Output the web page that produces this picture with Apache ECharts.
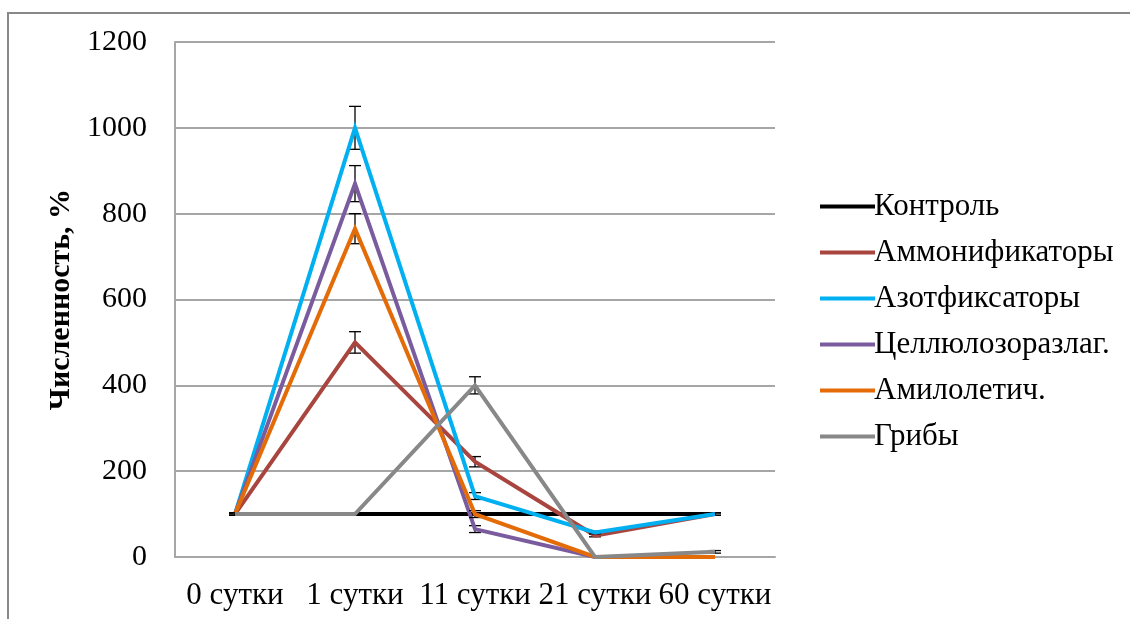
<!DOCTYPE html>
<html><head><meta charset="utf-8">
<script src="https://cdn.jsdelivr.net/npm/echarts@6/dist/echarts.min.js"></script>
<style>html,body{margin:0;padding:0;background:#fff}#c{width:1130px;height:619px}</style>
</head><body><div id="c"></div>
<script>
const categories = ['0 сутки', '1 сутки', '11 сутки', '21 сутки', '60 сутки'];
const seriesNames = ['Контроль', 'Аммонификаторы', 'Азотфиксаторы', 'Целлюлозоразлаг.', 'Амилолетич.', 'Грибы'];
const kontrol = [100, 100, 100, 100, 100];
const ammon = [100, 500, 222, 50, 100];
const azot = [100, 1000, 142, 57, 100];
const cell = [100, 870, 65, 0, 0];
const amil = [100, 765, 100, 0, 0];
const griby = [100, 100, 400, 0, 12];
const errKontrol = [3, 3, 3, 3, 3];
const errAmmon = [3, 25, 12, 3, 3];
const errAzot = [3, 50, 8, 3, 3];
const errCell = [3, 42, 8, 0, 0];
const errAmil = [3, 35, 8, 0, 0];
const errGriby = [3, 3, 20, 0, 3];
const yTicks = [0, 200, 400, 600, 800, 1000, 1200];

const colors = ['#000000', '#A9453F', '#00B0F0', '#7A5C9E', '#E36C09', '#888888'];
const values = [kontrol, ammon, azot, cell, amil, griby];
const errs = [errKontrol, errAmmon, errAzot, errCell, errAmil, errGriby];
const FONT = 'Liberation Serif';

const chart = echarts.init(document.getElementById('c'), null, {renderer: 'canvas'});
const series = [];
values.forEach((v, i) => {
  series.push({
    name: seriesNames[i], type: 'line', data: v, symbol: 'none',
    lineStyle: {color: colors[i], width: 4, join: 'miter'}, itemStyle: {color: colors[i]},
    z: 2 + i, animation: false
  });
  series.push({
    type: 'custom', z: 2 + i, silent: true, animation: false,
    data: v.map((y, k) => [k, y - errs[i][k], y + errs[i][k]]).filter(d => d[2] - d[1] > 0),
    renderItem: function (params, api) {
      const lo = api.coord([api.value(0), api.value(1)]);
      const hi = api.coord([api.value(0), api.value(2)]);
      const w = 6;
      const st = {stroke: '#000', lineWidth: 1.3};
      return {type: 'group', children: [
        {type: 'line', shape: {x1: hi[0], y1: hi[1], x2: lo[0], y2: lo[1]}, style: st},
        {type: 'line', shape: {x1: hi[0] - w, y1: hi[1], x2: hi[0] + w, y2: hi[1]}, style: st},
        {type: 'line', shape: {x1: lo[0] - w, y1: lo[1], x2: lo[0] + w, y2: lo[1]}, style: st}
      ]};
    }
  });
});

chart.setOption({
  animation: false,
  textStyle: {fontFamily: FONT},
  graphic: [{type: 'rect', shape: {x: 8, y: 13, width: 1300, height: 800},
    style: {fill: 'none', stroke: '#888888', lineWidth: 2}, silent: true}],
  grid: {left: 175, right: 355, top: 42, bottom: 62, containLabel: false},
  legend: {
    orient: 'vertical', left: 815, top: 186, itemGap: 15, itemWidth: 55, itemHeight: 4,
    icon: 'rect', data: seriesNames,
    textStyle: {fontFamily: FONT, fontSize: 31, color: '#000', padding: [0, 0, 0, -6]}
  },
  xAxis: {
    type: 'category', data: categories, boundaryGap: true,
    axisLine: {lineStyle: {color: '#A6A6A6', width: 2}}, axisTick: {show: false},
    axisLabel: {fontFamily: FONT, fontSize: 31, color: '#000', margin: 23, interval: 0}
  },
  yAxis: {
    type: 'value', min: 0, max: 1200, interval: 200,
    name: 'Численность, %', nameLocation: 'middle', nameGap: 97, nameRotate: 90,
    nameTextStyle: {fontFamily: FONT, fontSize: 30, fontWeight: 'bold', color: '#000'},
    axisLine: {show: true, lineStyle: {color: '#A6A6A6', width: 2}}, axisTick: {show: false},
    splitLine: {lineStyle: {color: '#A6A6A6', width: 2}},
    axisLabel: {fontFamily: FONT, fontSize: 30, color: '#000', margin: 28,
      formatter: v => yTicks.includes(v) ? String(v) : ''}
  },
  series: series
});
</script></body></html>
